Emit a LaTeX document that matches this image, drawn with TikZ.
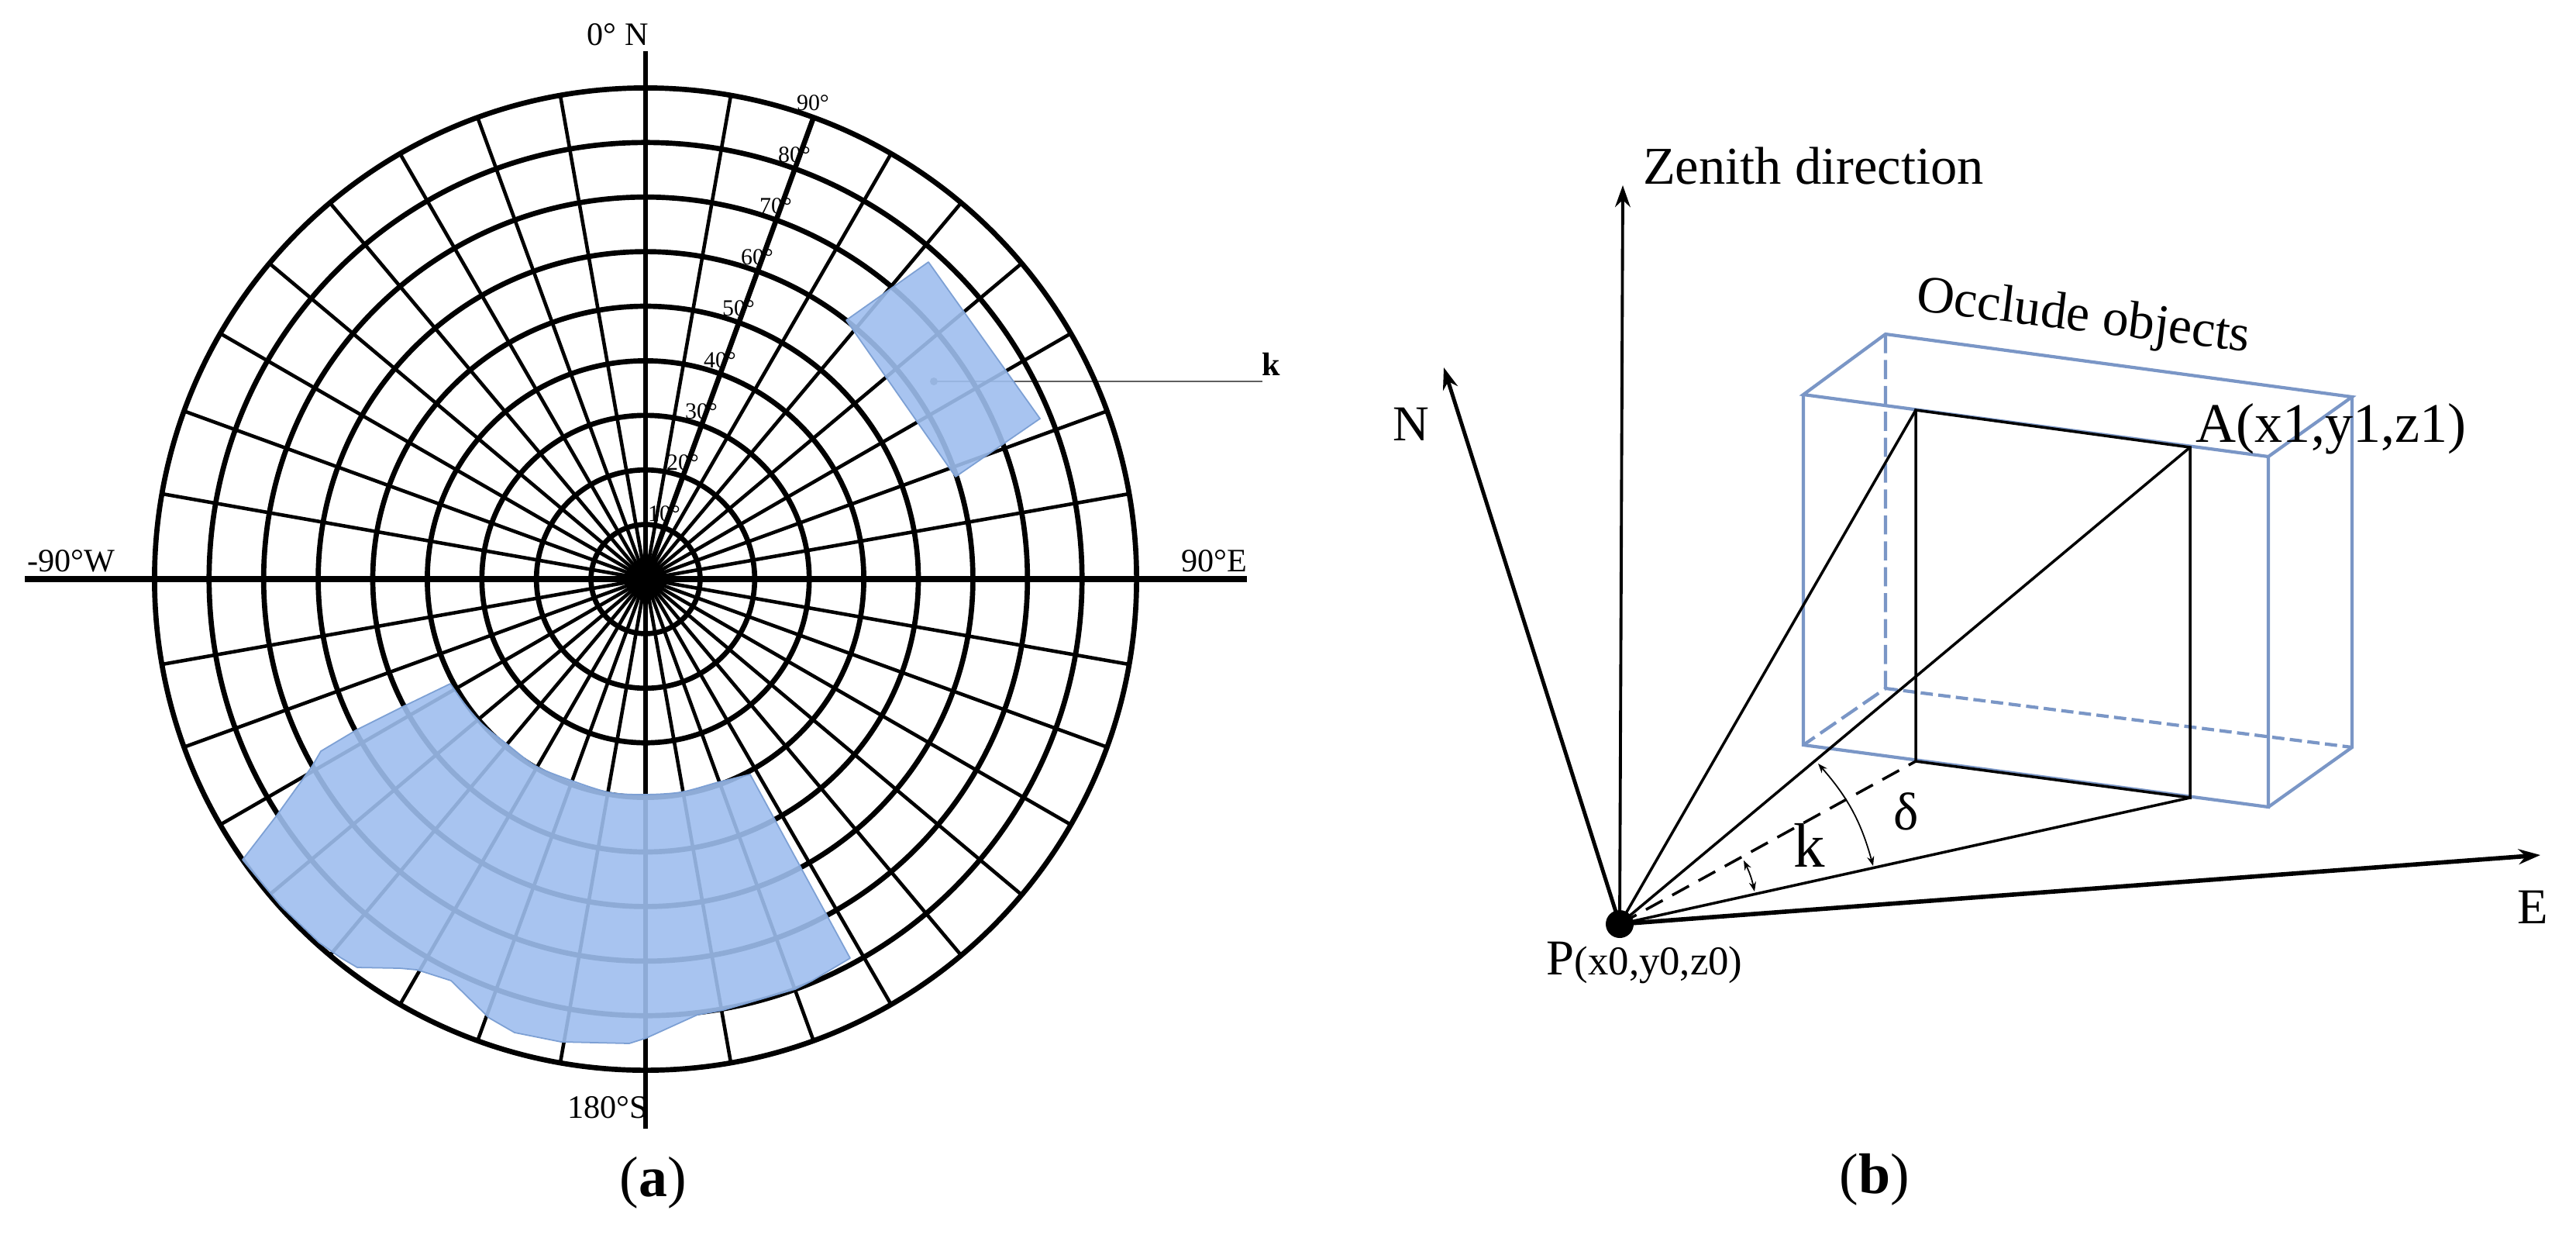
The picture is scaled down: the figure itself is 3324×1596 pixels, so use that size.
\documentclass[tikz,border=0pt]{standalone}
\usepackage{fontspec}
\setmainfont{Liberation Serif}
\usetikzlibrary{arrows.meta}
\definecolor{skyfill}{RGB}{158,190,238}
\definecolor{skyedge}{RGB}{125,160,212}
\definecolor{boxblue}{RGB}{122,150,198}
\definecolor{leadgray}{RGB}{95,95,95}
\tikzset{
    ring/.style={line width=1.9pt},
    spoke/.style={line width=1.3pt},
    patch/.style={fill=skyfill, fill opacity=0.9, draw=skyedge, line width=0.5pt, line join=round},
    lbl/.style={inner sep=0pt, font=\fontsize{12}{14}\selectfont},
    deglbl/.style={inner sep=0pt, font=\fontsize{8.5}{10}\selectfont},
    biglbl/.style={inner sep=0pt, font=\fontsize{18.4}{22}\selectfont},
    caplbl/.style={inner sep=0pt, font=\fontsize{21}{25}\selectfont},
    boxline/.style={boxblue, line width=1.2pt},
    boxback/.style={boxblue, line width=1.2pt, dash pattern=on 7pt off 2.5pt},
    ray/.style={line width=1pt},
    axis/.style={-{Stealth[length=8pt,width=5.6pt]}},
    sweep/.style={line width=0.5pt, {Stealth[length=3.5pt,width=2.6pt]}-{Stealth[length=3.5pt,width=2.6pt]}}
}
\begin{document}
\begin{tikzpicture}[x=0.01cm, y=-0.01cm]
\useasboundingbox (0,0) rectangle (3324,1596);
\coordinate (ctr) at (833,747);
% Leader of the small patch
\coordinate (kstart) at (1205,492);
\coordinate (kend) at (1629,492);
\draw[leadgray, line width=0.8pt] (kstart) -- (kend);
\fill[leadgray] (kstart) circle (5);
% Spokes and rings
\foreach \a in {0,10,...,350}
    \draw[spoke] (ctr) -- ++(\a:634);
\foreach \r in {1,...,9}
    \draw[ring] (ctr) circle ({\r*70.4});
\fill (ctr) circle (26);
\draw[line width=1.9pt] (ctr) -- ++(-70:634);
\draw[line width=1.8pt] (833,66) -- (833,1456);
\draw[line width=2.3pt] (32,747) -- (1609,747);
% Blue patches
\draw[patch] (1198,338) -- (1092,413) -- (1233,615) -- (1342,540) -- cycle;
\draw[patch] plot[smooth, tension=0.5] coordinates {(581,882) (601,910) (623,935) (653,959)
    (691,988) (735,1006) (785,1022) (828,1025) (878,1022) (927,1009) (968,999)}
    -- (1097,1236) -- (1048,1265) -- (1026,1276) -- (933,1303) -- (900,1309)
    -- (834,1339) -- (812,1346) -- (724,1344) -- (664,1332) -- (631,1313)
    -- (582,1265) -- (538,1251) -- (516,1249) -- (461,1248) -- (439,1235)
    -- (412,1216) -- (362,1168) -- (313,1109) -- (357,1052) -- (403,988)
    -- (414,969) -- (461,941) -- (521,911) -- cycle;
% Labels of the sky chart
\foreach \d [count=\n] in {10,20,...,90}
    \node[deglbl] (deg\d) at ({857+24*(\n-1)},{663-66.25*(\n-1)}) {\d°};
\node[lbl] (north) at (797,45) {0° N};
\node[lbl] (west) at (92,724) {-90°W};
\node[lbl] (east) at (1567,724) {90°E};
\node[lbl] (south) at (784,1429) {180°S};
\node[lbl] (klbl) at (1640,470) {\textbf{k}};
\node[caplbl] (capa) at (843,1526) {(\textbf{a})};
% Occluder, back edges first
\coordinate (P) at (2090,1192);
\coordinate (ftl) at (2327,509);
\coordinate (ftr) at (2927,589);
\coordinate (fbl) at (2327,961);
\coordinate (fbr) at (2927,1041);
\coordinate (btl) at (2433,431);
\coordinate (btr) at (3035,512);
\coordinate (bbl) at (2433,888);
\coordinate (bbr) at (3035,964);
\coordinate (itl) at (2472,529);
\coordinate (A) at (2826,577);
\coordinate (ibl) at (2472,982);
\coordinate (ibr) at (2826,1029);
\draw[boxback] (btl) -- (bbl) -- (fbl);
\draw[boxback, dash pattern=on 4.5pt off 2pt] (bbl) -- (bbr);
\draw[boxline] (ftl) -- (btl) -- (btr) -- (ftr) -- cycle;
\draw[boxline] (ftl) -- (fbl) -- (fbr) -- (ftr);
\draw[boxline] (btr) -- (bbr) -- (fbr);
% Black quad and rays
\draw[ray] (ibl) -- (itl) -- (A) -- (ibr) -- cycle;
\draw[ray] (P) -- (itl);
\draw[ray] (P) -- (A);
\draw[ray] (P) -- (ibr);
\draw[ray, dash pattern=on 7pt off 4pt] (P) -- (ibl);
% Axes
\coordinate (zen) at (2094,239);
\coordinate (nor) at (1863,474);
\coordinate (eas) at (3278,1103);
\draw[axis, line width=1.1pt] (P) -- (zen);
\draw[axis, line width=1.4pt] (P) -- (nor);
\draw[axis, line width=1.6pt] (P) -- (eas);
\fill (P) circle (18);
% Angle marks
\coordinate (da) at (2417,1117);
\coordinate (db) at (2346,985);
\coordinate (ka) at (2264,1150);
\coordinate (kb) at (2250,1110);
\draw[sweep] (da) to[bend right=13] (db);
\draw[sweep] (ka) to[bend right=7] (kb);
% Labels of the sketch
\node[biglbl, font=\fontsize{19.5}{22}\selectfont] (zenlbl) at (2340,214) {Zenith direction};
\node[biglbl, font=\fontsize{19.2}{22}\selectfont, rotate=-7] (occlbl) at (2688,411) {Occlude objects};
\node[biglbl] (nlbl) at (1821,547) {N};
\node[biglbl] (elbl) at (3268,1170) {E};
\node[biglbl, font=\fontsize{20.5}{22}\selectfont] (albl) at (3008,553) {A(x1,y1,z1)};
\node[biglbl, font=\fontsize{19.5}{22}\selectfont] (dlbl) at (2460,1047) {δ};
\node[biglbl, font=\fontsize{23}{26}\selectfont] (kang) at (2335,1090) {k};
\node[biglbl, anchor=base west] (plbl) at (1995,1257) {P\fontsize{15}{17}\selectfont(x0,y0,z0)};
\node[caplbl] (capb) at (2419,1522) {(\textbf{b})};
\end{tikzpicture}
\end{document}
